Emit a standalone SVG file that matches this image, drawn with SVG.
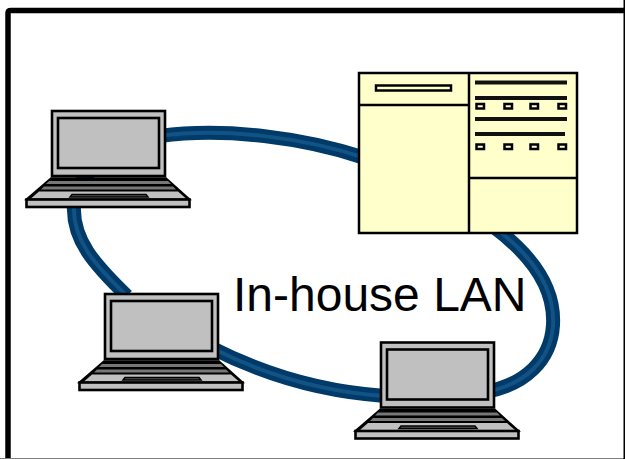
<svg xmlns="http://www.w3.org/2000/svg" xmlns:xlink="http://www.w3.org/1999/xlink" width="625" height="459" viewBox="0 0 625 459">
<style>
.cable{fill:none;stroke:#003a68;stroke-width:14}
.core{fill:none;stroke:#125385;stroke-width:4}
.k{stroke:#000;stroke-linejoin:miter}
.g{fill:#c0c0c0;stroke:#000;stroke-width:2.600}
.s{fill:#ffffcc;stroke:#000;stroke-width:2.500}
.b{fill:#ffffcc;stroke:#000;stroke-width:2.500}
.l{stroke:#111;stroke-width:4}
text{font-family:"Liberation Sans",Arial,sans-serif;font-size:48px;fill:#000}
</style>
<defs>
<g id="laptop">
<rect class="g" x="52" y="111" width="113" height="65"/>
<rect class="g" x="58" y="118" width="101" height="50"/>
<polygon points="51,178 166,178 190,199.500 26,199.500" fill="#000" stroke="#000" stroke-width="1.500"/>
<polygon points="49,181 168,181 171,184 46,184" fill="#777"/>
<polygon points="44,186.500 173,186.500 176,189.500 41,189.500" fill="#777"/>
<polygon points="39,191.500 178,191.500 186,198.500 31,198.500" fill="#c0c0c0"/>
<polygon points="72,194.500 146,194.500 148,197 70,197" fill="#555" stroke="#000" stroke-width="1.500"/>
<rect class="g" x="26.500" y="199.500" width="163" height="7.500"/>
</g>
</defs>
<rect x="0" y="0" width="625" height="459" fill="#fff"/>
<path d="M8 459V13Q8 10.500 11 10.500H625" fill="none" stroke="#000" stroke-width="5.500"/>
<rect x="0" y="458" width="625" height="1" fill="#808080"/>
<rect x="623.500" y="0" width="1.500" height="459" fill="#000"/>
<g id="connectors">
<path class="cable" d="M160 136C225 127 305 138 365 158"/>
<path class="core" d="M160 136C225 127 305 138 365 158"/>
<path class="cable" d="M495 228C535 258 555 290 553 325C551 360 525 385 485 392"/>
<path class="core" d="M495 228C535 258 555 290 553 325C551 360 525 385 485 392"/>
<path class="cable" d="M385 396C325 392 265 375 212 348"/>
<path class="core" d="M385 396C325 392 265 375 212 348"/>
<path class="cable" d="M127 296C95 265 72 240 74 205"/>
<path class="core" d="M127 296C95 265 72 240 74 205"/>
<rect x="76" y="175" width="18" height="3" fill="#003a68"/>
</g>
<g id="laptop-1"><use xlink:href="#laptop" href="#laptop"/></g>
<g id="laptop-2"><use xlink:href="#laptop" href="#laptop" transform="translate(53,183)"/></g>
<g id="laptop-3"><use xlink:href="#laptop" href="#laptop" transform="translate(329,231.500)"/></g>
<g id="server">
<rect class="s" x="359" y="73" width="218" height="160"/>
<path class="k" stroke-width="2.500" fill="none" d="M469 73V233M359 105H469M469 178H577"/>
<rect class="b" x="376" y="85.500" width="75" height="5"/>
<path class="l" d="M475 82.500H567M475 98H567M475 119H567M475 134H565"/>
<rect class="b" x="476.500" y="104" width="7.500" height="4.500"/>
<rect class="b" x="504.500" y="104" width="7.500" height="4.500"/>
<rect class="b" x="530.500" y="104" width="7.500" height="4.500"/>
<rect class="b" x="558.500" y="104" width="7.500" height="4.500"/>
<rect class="b" x="476.500" y="144.500" width="7.500" height="4.500"/>
<rect class="b" x="504.500" y="144.500" width="7.500" height="4.500"/>
<rect class="b" x="530.500" y="144.500" width="7.500" height="4.500"/>
<rect class="b" x="558.500" y="144.500" width="7.500" height="4.500"/>
</g>
<text x="233" y="311">In-house LAN</text>
</svg>
